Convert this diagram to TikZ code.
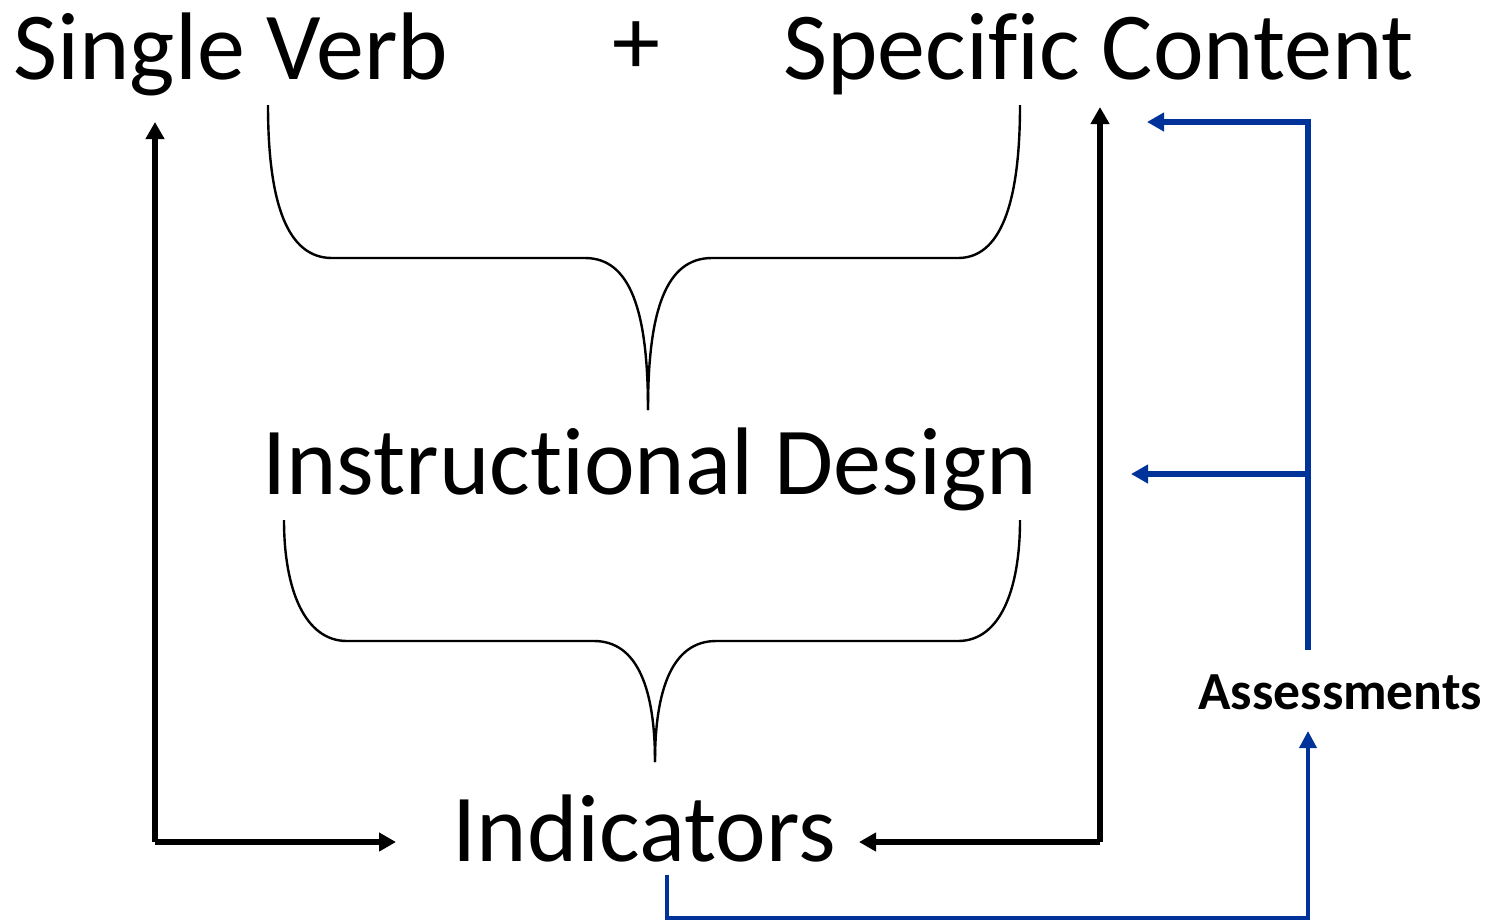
\documentclass[tikz,border=0pt]{standalone}
\usepackage{fontspec}
\setmainfont[Ligatures=NoCommon]{Carlito}
\usetikzlibrary{arrows.meta}
\definecolor{flowblue}{HTML}{003399}
\begin{document}
\begin{tikzpicture}[x=0.5pt,y=-0.5pt,
  bigtext/.style={inner sep=0pt,anchor=base west,font=\fontsize{48}{58}\selectfont},
  smalltext/.style={inner sep=0pt,anchor=base west,font=\bfseries\fontsize{26.8}{32}\selectfont},
  brace/.style={line width=1.2pt},
  blackflow/.style={line width=2.7pt,-{Triangle[length=8.5pt,width=9pt]}},
  blueflow/.style={line width=3pt,flowblue,-{Triangle[length=8.5pt,width=9pt]}},
  bluethin/.style={line width=1.9pt,flowblue,-{Triangle[length=8.5pt,width=8.5pt]}}]
\useasboundingbox (0,0) rectangle (1492,922);

% labels
\node[bigtext] (sv) at (13,79) {Single Verb};
\node[bigtext] (plus) at (612,74) {+};
\node[bigtext] (sc) at (783,79) {Specific Content};
\node[bigtext] (id) at (262,494) {Instructional Design};
\node[bigtext] (ind) at (452,861) {Indicators};
\node[smalltext] (as) at (1198,709) {Assessments};

% anchor points of the connectors
\coordinate (svtip) at (155,122);
\coordinate (sctip) at (1100,107);
\coordinate (lc) at (155,842);
\coordinate (rc) at (1100,842);
\coordinate (indl) at (396,842);
\coordinate (indr) at (859,842);
\coordinate (bt) at (1308,122);
\coordinate (bm) at (1308,474);
\coordinate (bb) at (1308,650);
\coordinate (sctgt) at (1147,122);
\coordinate (idtgt) at (1131,474);
\coordinate (indb) at (667,875);
\coordinate (astgt) at (1308,731);

% braces
\draw[brace] (268,105) .. controls (268,205) and (288,258) .. (332,258)
  -- (585,258) .. controls (630,258) and (648,310) .. (648,410);
\draw[brace] (1020,105) .. controls (1020,205) and (1000,258) .. (958,258)
  -- (712,258) .. controls (666,258) and (648,310) .. (648,410);
\draw[brace] (284,520) .. controls (284,590) and (305,641) .. (347,641)
  -- (594,641) .. controls (638,641) and (655,690) .. (655,762);
\draw[brace] (1020,520) .. controls (1020,590) and (1000,641) .. (958,641)
  -- (716,641) .. controls (672,641) and (655,690) .. (655,762);

% black feedback lines
\draw[blackflow] (lc) -- (svtip);
\draw[blackflow] (lc) -- (indl);
\draw[blackflow] (rc) -- (sctip);
\draw[blackflow] (rc) -- (indr);

% blue assessment lines
\draw[blueflow] (bb) -- (bt) -- (sctgt);
\draw[blueflow] (bm) -- (idtgt);
\draw[bluethin] (indb) -- (667,918) -- (1308,918) -- (astgt);
\end{tikzpicture}
\end{document}
